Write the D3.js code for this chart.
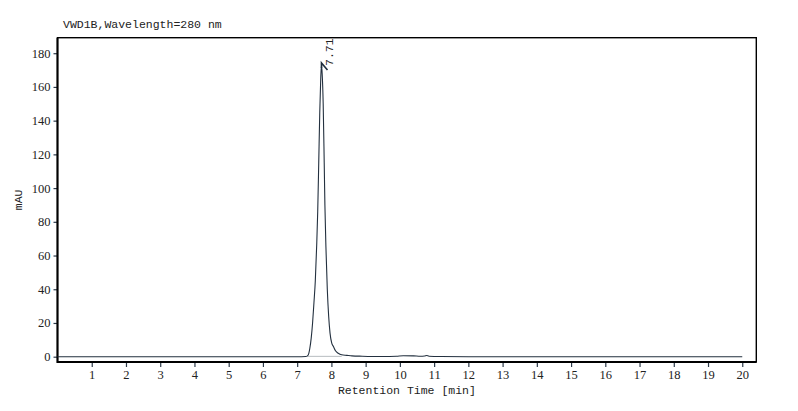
<!DOCTYPE html>
<html>
<head>
<meta charset="utf-8">
<script src="https://cdn.jsdelivr.net/npm/d3@7"></script>
<style>
  html,body{margin:0;padding:0;background:#fff;}
  svg{display:block;}
</style>
</head>
<body>
<svg id="chart" width="798" height="411"></svg>
<script>
// VWD1B chromatogram, single peak at 7.71 min. Trace points.
const TIME = [0, 2, 4, 6, 7.0, 7.25, 7.30, 7.34, 7.37, 7.41, 7.45, 7.49, 7.53, 7.57, 7.60,
  7.63, 7.66, 7.69, 7.71, 7.73, 7.76, 7.79, 7.81, 7.84, 7.88, 7.92, 7.96, 8.01, 8.06,
  8.12, 8.20, 8.30, 8.45, 8.60, 8.90, 9.50, 9.90, 10.10, 10.40, 10.60, 10.72, 10.78,
  10.85, 11.20, 12, 14, 16, 18, 20];
const MAU = [0, 0, 0, 0, 0, 0.1, 0.5, 2, 5, 11, 20, 32, 45, 66, 86,
  115, 145, 166, 173, 168, 150, 115, 90, 65, 40, 24, 14, 8, 6,
  3.5, 2, 1.1, 0.8, 0.5, 0.3, 0.1, 0.3, 0.6, 0.5, 0.3, 0.4, 0.7,
  0.3, 0.1, 0, 0, 0, 0, 0];
const X_TICKS = d3.range(1, 21);
const Y_TICKS = d3.range(0, 181, 20);
const PEAKS = [{t: 7.71, h: 173, label: "7.71"}];
const BASELINE = [[7.30, 0.2], [8.30, 0.2]];   // integration baseline under the peak

const W = 798, H = 411;
const M = {top: 37.7, right: 41.7, bottom: 49, left: 57.5};
const MONO = "Liberation Mono";
const SERIF = "Liberation Serif";
const INK = "#222";
const svg = d3.select("#chart");

const x = d3.scaleLinear().domain([0, 20.41]).range([M.left, W - M.right]);
const y = d3.scaleLinear().domain([-3.15, 189.2]).range([H - M.bottom, M.top]);

const label = (sel) => sel.style("font-family", MONO).style("font-size", "11.5px").attr("fill", INK);

// signal title
svg.append("text").call(label)
   .attr("x", 63).attr("y", 28)
   .text("VWD1B,Wavelength=280 nm");

// axes (domain path dropped, frame drawn separately)
const gx = svg.append("g").attr("transform", `translate(0,${H - M.bottom})`)
   .call(d3.axisBottom(x).tickValues(X_TICKS).tickSize(5).tickPadding(3).tickFormat(d3.format("d")));
const gy = svg.append("g").attr("transform", `translate(${M.left},0)`)
   .call(d3.axisLeft(y).tickValues(Y_TICKS).tickSize(4).tickPadding(3).tickFormat(d3.format("d")));
[gx, gy].forEach(g => {
  g.select(".domain").remove();
  g.selectAll(".tick line").attr("stroke", "#2c3a4a").attr("stroke-width", 1.2);
  g.selectAll(".tick text").attr("fill", INK)
   .style("font-family", SERIF).style("font-size", "12.5px");
});

// frame: left/bottom heavier than top/right
svg.append("rect")
   .attr("x", M.left).attr("y", M.top)
   .attr("width", W - M.left - M.right).attr("height", H - M.top - M.bottom)
   .attr("fill", "none").attr("stroke", "#000").attr("stroke-width", 1.4);
svg.append("path")
   .attr("d", `M${M.left},${M.top}V${H - M.bottom}H${W - M.right}`)
   .attr("fill", "none").attr("stroke", "#000").attr("stroke-width", 2);

// integration baseline
svg.append("path").datum(BASELINE)
   .attr("d", d3.line().x(d => x(d[0])).y(d => y(d[1])))
   .attr("stroke", "#b8bcc0").attr("stroke-width", 1).attr("fill", "none");

// trace
const trace = TIME.map((t, i) => [t, MAU[i]]);
svg.append("path").datum(trace)
   .attr("d", d3.line().x(d => x(d[0])).y(d => y(d[1])).curve(d3.curveMonotoneX))
   .attr("fill", "none").attr("stroke", "#23303f").attr("stroke-width", 1.1);

// peak marker + rotated retention time
PEAKS.forEach(p => {
  const px = x(p.t), py = y(p.h);
  svg.append("path")
     .attr("d", `M${px},${py + 3}L${px},${py - 2}L${px + 6},${py + 5}`)
     .attr("fill", "none").attr("stroke", "#1f2c3b").attr("stroke-width", 1.6);
  svg.append("text").call(label)
     .attr("transform", `translate(${px + 12},${py + 1}) rotate(-90)`)
     .text(p.label);
});

// axis titles
svg.append("text").call(label)
   .attr("x", (M.left + W - M.right) / 2).attr("y", 394)
   .attr("text-anchor", "middle")
   .text("Retention Time [min]");
svg.append("text").call(label)
   .attr("transform", `translate(22,${(M.top + H - M.bottom) / 2}) rotate(-90)`)
   .attr("text-anchor", "middle")
   .text("mAU");
</script>
</body>
</html>
